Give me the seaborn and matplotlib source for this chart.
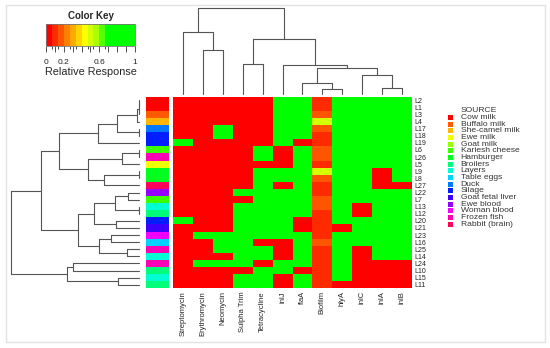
import numpy as np
import pandas as pd
import matplotlib
matplotlib.use("Agg")
import matplotlib.pyplot as plt
import seaborn as sns
from matplotlib.colors import ListedColormap, BoundaryNorm, hsv_to_rgb
from matplotlib.cm import ScalarMappable
from matplotlib.patches import Rectangle

W, H = 550, 348

# columns of the heatmap, in dendrogram order
features = ["Streptomycin", "Erythromycin", "Neomycin", "Sulpha Trim", "Tetracycline",
            "inlJ", "flaA", "Biofilm", "hlyA", "inlC", "inlA", "inlB"]

# rows, top to bottom, in dendrogram order
isolates = ["L2", "L1", "L3", "L4", "L17", "L18", "L19", "L6", "L26", "L5", "L9", "L8",
            "L27", "L22", "L7", "L13", "L12", "L20", "L21", "L23", "L16", "L25", "L14",
            "L24", "L10", "L15", "L11"]

# relative response (0 = red, 1 = green), Biofilm is graded
response = [
    [0, 0, 0, 0, 0, 1, 1, 0.10, 1, 1, 1, 1],
    [0, 0, 0, 0, 0, 1, 1, 0.10, 1, 1, 1, 1],
    [0, 0, 0, 0, 0, 1, 1, 0.17, 1, 1, 1, 1],
    [0, 0, 0, 0, 0, 1, 1, 0.50, 1, 1, 1, 1],
    [0, 0, 1, 0, 0, 1, 1, 0.17, 1, 1, 1, 1],
    [0, 0, 1, 0, 0, 1, 1, 0.10, 1, 1, 1, 1],
    [1, 0, 0, 0, 0, 1, 0, 0.10, 1, 1, 1, 1],
    [0, 0, 0, 0, 1, 0, 1, 0.17, 1, 1, 1, 1],
    [0, 0, 0, 0, 1, 0, 1, 0.17, 1, 1, 1, 1],
    [0, 0, 0, 0, 0, 0, 1, 0.10, 1, 1, 1, 1],
    [0, 0, 0, 0, 1, 1, 1, 0.50, 1, 1, 0, 1],
    [0, 0, 0, 0, 1, 1, 1, 0.17, 1, 1, 0, 1],
    [0, 0, 0, 0, 1, 0, 1, 0.10, 1, 1, 0, 0],
    [0, 0, 0, 1, 1, 1, 1, 0.10, 1, 1, 1, 1],
    [0, 0, 0, 0, 1, 1, 1, 0.17, 1, 1, 1, 1],
    [0, 0, 0, 1, 1, 1, 1, 0.17, 1, 0, 1, 1],
    [0, 0, 0, 1, 1, 1, 1, 0.10, 1, 0, 1, 1],
    [1, 0, 0, 1, 1, 1, 0, 0.10, 1, 1, 1, 1],
    [0, 0, 0, 1, 1, 1, 0, 0.10, 0, 1, 1, 1],
    [0, 1, 1, 1, 1, 1, 1, 0.10, 1, 1, 1, 1],
    [0, 0, 1, 1, 0, 0, 1, 0.17, 1, 1, 1, 1],
    [0, 0, 1, 1, 1, 0, 1, 0.10, 1, 0, 1, 1],
    [0, 0, 0, 1, 1, 0, 1, 0.10, 1, 0, 1, 1],
    [0, 1, 1, 1, 0, 1, 1, 0.10, 1, 0, 0, 0],
    [0, 0, 0, 0, 1, 1, 0, 0.10, 1, 0, 0, 0],
    [0, 0, 0, 1, 1, 0, 1, 0.10, 1, 0, 0, 0],
    [0, 0, 0, 1, 1, 0, 1, 0.10, 0, 0, 0, 0],
]

sources = ["Cow milk", "Buffalo milk", "She-camel milk", "Ewe milk", "Goat milk",
           "Kariesh cheese", "Hamburger", "Broilers", "Layers", "Table eggs", "Duck",
           "Silage", "Goat fetal liver", "Ewe blood", "Woman blood", "Frozen fish",
           "Rabbit (brain)"]

isolate_source = ["Cow milk", "Cow milk", "Buffalo milk", "She-camel milk", "Duck",
                  "Silage", "Silage", "Kariesh cheese", "Frozen fish", "Ewe milk",
                  "Hamburger", "Hamburger", "Rabbit (brain)", "Ewe blood", "Kariesh cheese",
                  "Layers", "Broilers", "Silage", "Goat fetal liver", "Woman blood",
                  "Table eggs", "Frozen fish", "Layers", "Frozen fish", "Broilers",
                  "Layers", "Broilers"]

# merges (a, b, height); ids >= n refer to earlier merges
row_merges = [(0, 1, 0.0), (27, 2, 0.0), (28, 3, 2.5), (4, 5, 0.5), (29, 30, 22.0),
              (31, 6, 41.7), (7, 8, 0.3), (33, 9, 17.3), (10, 11, 0.8), (35, 12, 35.3),
              (34, 36, 51.3), (32, 37, 80.0), (13, 14, 11.0), (15, 16, 0.5),
              (39, 40, 24.3), (17, 18, 23.3), (41, 42, 45.0), (19, 20, 28.7),
              (21, 22, 12.7), (44, 45, 40.0), (43, 46, 61.7), (38, 47, 98.3),
              (23, 24, 66.7), (25, 26, 21.0), (49, 50, 72.7), (48, 51, 128.3)]

col_merges = [(1, 2, 44.0), (0, 12, 62.3), (3, 4, 30.0), (7, 8, 4.7), (6, 15, 11.3),
              (10, 11, 5.7), (9, 17, 19.0), (16, 18, 25.7), (5, 19, 29.0),
              (14, 20, 55.0), (13, 21, 85.7)]

# color key bands
key_breaks = [0, 0.067, 0.133, 0.2, 0.267, 0.333, 0.4, 0.467, 0.533, 0.6, 0.667, 1.0]
key_colors = ["#FF0000", "#FF2A00", "#FF5500", "#FF7F00", "#FFAA00", "#FFD400",
              "#FFFF00", "#D4FF00", "#AAFF00", "#55FF00", "#00FF00"]


def px_box(x0, y0, x1, y1):
    return [x0 / W, 1 - y1 / H, (x1 - x0) / W, (y1 - y0) / H]


def dendro_segments(merges, n):
    pos = {i: i + 0.5 for i in range(n)}
    hgt = {i: 0.0 for i in range(n)}
    segs = []
    for k, (a, b, h) in enumerate(merges):
        segs.append(([pos[a], pos[a]], [hgt[a], h]))
        segs.append(([pos[a], pos[b]], [h, h]))
        segs.append(([pos[b], pos[b]], [hgt[b], h]))
        pos[n + k] = (pos[a] + pos[b]) / 2
        hgt[n + k] = h
    return segs


sns.set_style("white")
plt.rcParams["font.family"] = ["Liberation Sans", "DejaVu Sans"]

fig = plt.figure(figsize=(W / 100, H / 100), dpi=100)

cmap = ListedColormap(key_colors)
norm = BoundaryNorm(key_breaks, cmap.N)

# main heatmap
ax_hm = fig.add_axes(px_box(173.3, 96.7, 411.7, 288.3))
df = pd.DataFrame(response, index=isolates, columns=features)
sns.heatmap(df, ax=ax_hm, cmap=cmap, norm=norm, cbar=False,
            xticklabels=True, yticklabels=True)
ax_hm.yaxis.tick_right()
ax_hm.set_yticklabels(isolates, rotation=0, fontsize=5, color="#222222")
ax_hm.set_xticklabels(features, rotation=90, fontsize=5.5, color="#222222")
ax_hm.tick_params(length=0, pad=2)
ax_hm.set_xlabel("")
ax_hm.set_ylabel("")

# side colour bar
ax_sc = fig.add_axes(px_box(145.7, 96.7, 168.7, 288.3))
src_colors = [hsv_to_rgb((i / len(sources), 1, 1)) for i in range(len(sources))]
codes = pd.DataFrame({"src": [sources.index(s) for s in isolate_source]}, index=isolates)
sns.heatmap(codes, ax=ax_sc, cmap=ListedColormap(src_colors), vmin=-0.5,
            vmax=len(sources) - 0.5, cbar=False, xticklabels=False, yticklabels=False)

# column dendrogram
ax_cd = fig.add_axes(px_box(173.3, 8.3, 411.7, 94))
for xs, ys in dendro_segments(col_merges, len(features)):
    ax_cd.plot(xs, ys, color="#555555", lw=0.8, clip_on=False)
ax_cd.set_xlim(0, len(features))
ax_cd.set_ylim(0, max(m[2] for m in col_merges))
ax_cd.axis("off")

# row dendrogram
ax_rd = fig.add_axes(px_box(11, 96.7, 139.3, 288.3))
for ys, xs in dendro_segments(row_merges, len(isolates)):
    ax_rd.plot(xs, ys, color="#555555", lw=0.8, clip_on=False)
ax_rd.set_xlim(max(m[2] for m in row_merges), 0)
ax_rd.set_ylim(len(isolates), 0)
ax_rd.axis("off")

# colour key
ax_key = fig.add_axes(px_box(46, 24, 135, 46))
cb = fig.colorbar(ScalarMappable(norm=norm, cmap=cmap), cax=ax_key,
                  orientation="horizontal", spacing="proportional")
key_ticks = [0, 0.1, 0.2, 0.3, 0.4, 0.5, 0.6, 0.7, 0.8, 0.9, 1.0]
cb.set_ticks(key_ticks)
cb.set_ticklabels(["0", "", "0.2", "", "", "", "0.6", "", "", "", "1"])
cb.ax.tick_params(labelsize=6, length=4, width=0.6, pad=5, color="#333333")
cb.outline.set_linewidth(0.6)
cb.outline.set_edgecolor("#777777")
cb.set_label("Relative Response", fontsize=7.8, labelpad=1)
ax_key.set_title("Color Key", fontsize=7, fontweight="bold", pad=3.5)

# overlay in pixel coordinates for legend and frame
ax_px = fig.add_axes([0, 0, 1, 1])
ax_px.set_xlim(0, W)
ax_px.set_ylim(H, 0)
ax_px.axis("off")
ax_px.add_patch(Rectangle((6, 5), 539, 337, fill=False, edgecolor="#E2E2E2", lw=1))

legend_rows = ["SOURCE"] + sources
for i, name in enumerate(legend_rows):
    y = 111 + 6.65 * i
    ax_px.text(460.7, y, name, fontsize=6.1, va="center", ha="left", color="#333333")
    if i > 0:
        ax_px.add_patch(Rectangle((447.5, y - 2.5), 5, 5, facecolor=src_colors[i - 1],
                                  edgecolor="none"))

fig.savefig("out.png", dpi=100)
